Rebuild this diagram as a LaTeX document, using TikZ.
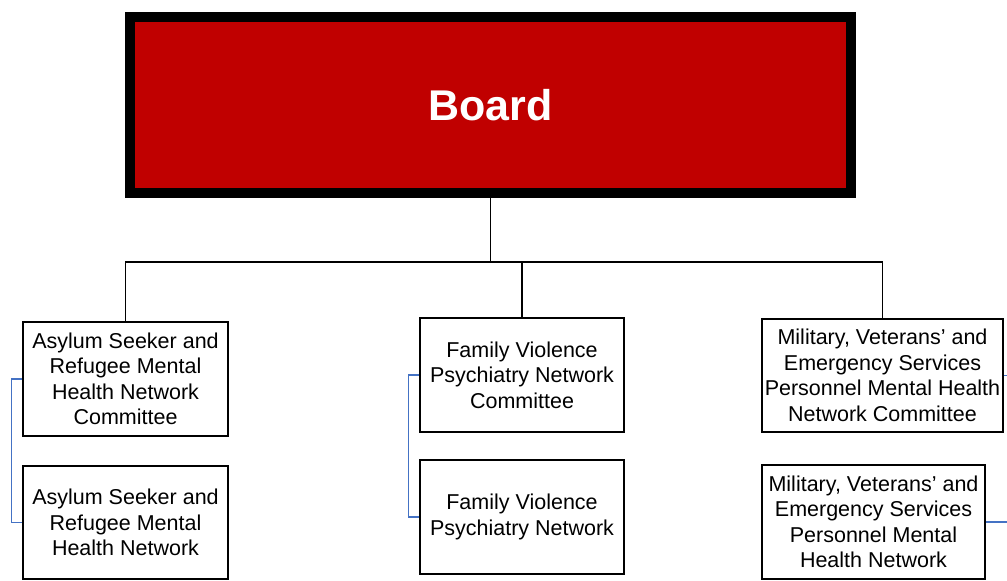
\documentclass[tikz,border=0pt]{standalone}
\usepackage{fontspec}
\setmainfont{Liberation Sans}
\definecolor{boardred}{HTML}{C00000}
\definecolor{linkblue}{HTML}{4472C4}
\begin{document}
\begin{tikzpicture}[x=1pt,y=-1pt,
  boardbox/.style={draw=black, line width=10pt, fill=boardred, minimum width=721pt, minimum height=176pt, inner sep=0pt, text=white, font=\fontsize{43}{50}\selectfont\bfseries},
  unitbox/.style={draw=black, line width=1.6pt, fill=white, inner sep=0pt, align=center, font=\fontsize{21.5}{25.5}\selectfont},
  tree/.style={draw=black, line width=1.6pt},
  link/.style={draw=linkblue, line width=1.3pt}]
\useasboundingbox (0,0) rectangle (1007,581);
\node[boardbox] (board) at (490.5,105) {Board};
\node[unitbox, minimum width=205pt, minimum height=114pt] (L1) at (125.5,379) {Asylum Seeker and\\Refugee Mental\\Health Network\\Committee};
\node[unitbox, minimum width=205pt, minimum height=113pt] (L2) at (125.5,522.5) {Asylum Seeker and\\Refugee Mental\\Health Network};
\node[unitbox, minimum width=204pt, minimum height=114pt] (M1) at (522,375) {Family Violence\\Psychiatry Network\\Committee};
\node[unitbox, minimum width=204pt, minimum height=114pt] (M2) at (522,517) {Family Violence\\Psychiatry Network};
\node[unitbox, minimum width=241pt, minimum height=113pt] (R1) at (882.5,375.5) {Military, Veterans’ and\\Emergency Services\\Personnel Mental Health\\Network Committee};
\node[unitbox, minimum width=223pt, minimum height=114pt] (R2) at (873.5,522) {Military, Veterans’ and\\Emergency Services\\Personnel Mental\\Health Network};
\coordinate (bus) at (490,262);
\coordinate (rA) at (1020,375.5);
\draw[tree] (board.south) -- (board.south |- bus);
\draw[tree] (L1.north) -- (L1.north |- bus) -- (R1.north |- bus) -- (R1.north);
\draw[tree] (M1.north) -- (M1.north |- bus);
\draw[link] (L1.west) -- ++(-11,0) |- (L2.west);
\draw[link] (M1.west) -- ++(-11,0) |- (M2.west);
\draw[link] (R1.east) -- (rA) |- (R2.east);
\end{tikzpicture}
\end{document}
